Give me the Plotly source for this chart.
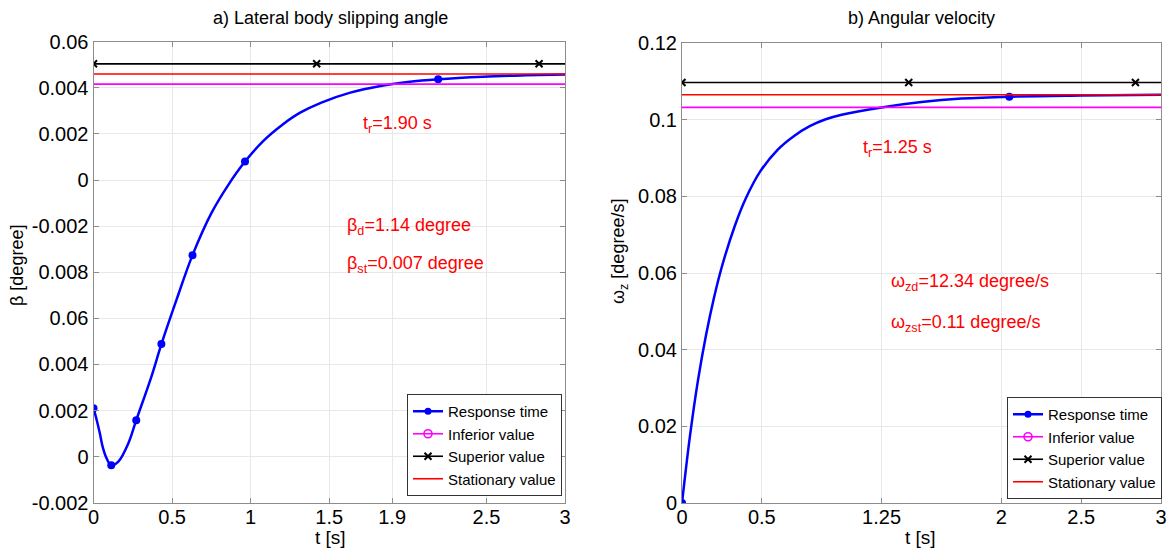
import plotly.graph_objects as go

# ---------------- data: a) lateral body slipping angle ----------------
t_beta = [0, 0.02, 0.04, 0.06, 0.085, 0.113, 0.158, 0.222, 0.272, 0.368, 0.432, 0.528,
          0.63, 0.75, 0.857, 0.964, 1.081, 1.2, 1.315, 1.45, 1.634, 1.826, 2.0, 2.193,
          2.48, 2.75, 3.0]
beta = [0.0021, 0.0016, 0.00102, 0.00038, -0.0001, -0.00038, -0.00022, 0.00058, 0.00158,
        0.00346, 0.00488, 0.0068, 0.00874, 0.01056, 0.01178, 0.0128, 0.0137, 0.01439,
        0.01492, 0.01536, 0.01579, 0.01608, 0.01625, 0.01637, 0.01648, 0.01654, 0.01658]
beta_marker_t = [0, 0.113, 0.272, 0.432, 0.63, 0.964, 2.193]
beta_marker_v = [0.0021, -0.00038, 0.00158, 0.00488, 0.00874, 0.0128, 0.01637]
beta_inferior = 0.01616
beta_superior = 0.01704
beta_stationary = 0.0166
beta_inf_marker_t = [0, 1.315, 2.634]
beta_sup_marker_t = [0, 1.42, 2.835]
beta_xticks = [0, 0.5, 1, 1.5, 1.9, 2.5, 3]
beta_xticklabels = ['0', '0.5', '1', '1.5', '1.9', '2.5', '3']
beta_yticks = [-0.002, 0, 0.002, 0.004, 0.006, 0.008, 0.010, 0.012, 0.014, 0.016, 0.018]
beta_yticklabels = ['-0.002', '0', '0.002', '0.004', '0.06', '0.008',
                    '-0.002', '0', '0.002', '0.004', '0.06']

# ---------------- data: b) angular velocity ----------------
t_omega = [0, 0.05, 0.1, 0.15, 0.2, 0.25, 0.33, 0.4, 0.49, 0.6, 0.7, 0.8, 0.9, 1.0,
           1.25, 1.5, 1.75, 2.05, 2.5, 3.0]
omega = [0, 0.0175, 0.032, 0.0437, 0.0535, 0.0617, 0.0722, 0.0795, 0.0865, 0.0922, 0.0957,
         0.0983, 0.1001, 0.1013, 0.1032, 0.1046, 0.1055, 0.106, 0.1063, 0.1065]
omega_marker_t = [0, 2.05]
omega_marker_v = [0, 0.106]
omega_inferior = 0.1032
omega_superior = 0.1097
omega_stationary = 0.1065
omega_inf_marker_t = [0, 1.32, 2.48]
omega_sup_marker_t = [0, 1.42, 2.84]
omega_xticks = [0, 0.5, 1.25, 2, 2.5, 3]
omega_xticklabels = ['0', '0.5', '1.25', '2', '2.5', '3']
omega_yticks = [0, 0.02, 0.04, 0.06, 0.08, 0.1, 0.12]
omega_yticklabels = ['0', '0.02', '0.04', '0.06', '0.08', '0.1', '0.12']

series_names = ['Response time', 'Inferior value', 'Superior value', 'Stationary value']

BLUE = '#0000ff'
MAG = '#ff00ff'
BLK = '#000000'
RED = '#ff0000'
FONT = 'Liberation Sans, Arial, sans-serif'

fig = go.Figure()


def add_panel(xa, ya, leg, t, v, mt, mv, inf, sup, sta, inf_t, sup_t):
    fig.add_trace(go.Scatter(x=t, y=v, mode='lines', line=dict(color=BLUE, width=2.5, shape='spline'),
                             xaxis=xa, yaxis=ya, showlegend=False, hoverinfo='skip'))
    fig.add_trace(go.Scatter(x=mt, y=mv, mode='markers', marker=dict(color=BLUE, size=8, symbol='circle'),
                             xaxis=xa, yaxis=ya, showlegend=False))
    for val, col in [(sup, BLK), (sta, RED), (inf, MAG)]:
        fig.add_trace(go.Scatter(x=[0, 3], y=[val, val], mode='lines', line=dict(color=col, width=1.6),
                                 xaxis=xa, yaxis=ya, showlegend=False, hoverinfo='skip'))
    fig.add_trace(go.Scatter(x=inf_t, y=[inf] * len(inf_t), mode='markers',
                             marker=dict(color='rgba(0,0,0,0)', size=9, symbol='circle-open',
                                         line=dict(color=MAG, width=1.6)),
                             xaxis=xa, yaxis=ya, showlegend=False))
    fig.add_trace(go.Scatter(x=sup_t, y=[sup] * len(sup_t), mode='markers',
                             marker=dict(color=BLK, size=7, symbol='x-thin', line=dict(color=BLK, width=2)),
                             xaxis=xa, yaxis=ya, showlegend=False))
    # legend entries
    fig.add_trace(go.Scatter(x=[None], y=[None], mode='lines+markers', name=series_names[0],
                             line=dict(color=BLUE, width=2.5), marker=dict(color=BLUE, size=7),
                             xaxis=xa, yaxis=ya, legend=leg))
    fig.add_trace(go.Scatter(x=[None], y=[None], mode='lines+markers', name=series_names[1],
                             line=dict(color=MAG, width=1.6),
                             marker=dict(size=8, symbol='circle-open', color=MAG, line=dict(color=MAG, width=1.6)),
                             xaxis=xa, yaxis=ya, legend=leg))
    fig.add_trace(go.Scatter(x=[None], y=[None], mode='lines+markers', name=series_names[2],
                             line=dict(color=BLK, width=1.6),
                             marker=dict(size=7, symbol='x-thin', color=BLK, line=dict(color=BLK, width=2)),
                             xaxis=xa, yaxis=ya, legend=leg))
    fig.add_trace(go.Scatter(x=[None], y=[None], mode='lines', name=series_names[3],
                             line=dict(color=RED, width=1.6),
                             xaxis=xa, yaxis=ya, legend=leg))


add_panel('x', 'y', 'legend', t_beta, beta, beta_marker_t, beta_marker_v,
          beta_inferior, beta_superior, beta_stationary, beta_inf_marker_t, beta_sup_marker_t)
add_panel('x2', 'y2', 'legend2', t_omega, omega, omega_marker_t, omega_marker_v,
          omega_inferior, omega_superior, omega_stationary, omega_inf_marker_t, omega_sup_marker_t)

W, H = 1167, 548
axis_common = dict(showline=True, linecolor='#8c8c8c', linewidth=1, mirror='ticks',
                   ticks='inside', ticklen=5, tickcolor='#8c8c8c', showgrid=True,
                   gridcolor='#e8e8e8', gridwidth=1, zeroline=False, automargin=False,
                   tickfont=dict(family=FONT, size=20, color='#000'))

fig.update_layout(
    width=W, height=H, paper_bgcolor='white', plot_bgcolor='white',
    margin=dict(l=0, r=0, t=0, b=0, autoexpand=False),
    font=dict(family=FONT, color='#000'),
    xaxis=dict(domain=[93.5 / W, 565 / W], range=[0, 3], tickmode='array', tickvals=beta_xticks,
               ticktext=beta_xticklabels, anchor='y', ticklabelstandoff=-4, **axis_common),
    yaxis=dict(domain=[1 - 502.7 / H, 1 - 41.7 / H], range=[-0.002, 0.018], tickmode='array',
               tickvals=beta_yticks, ticktext=beta_yticklabels, anchor='x', **axis_common),
    xaxis2=dict(domain=[682 / W, 1161 / W], range=[0, 3], tickmode='array', tickvals=omega_xticks,
                ticktext=omega_xticklabels, anchor='y2', ticklabelstandoff=-4, **axis_common),
    yaxis2=dict(domain=[1 - 503 / H, 1 - 43 / H], range=[0, 0.12], tickmode='array',
                tickvals=omega_yticks, ticktext=omega_yticklabels, anchor='x2', **axis_common),
    legend=dict(x=562 / W, y=1 - 496 / H, xanchor='right', yanchor='bottom',
                bgcolor='white', bordercolor='#333', borderwidth=1,
                font=dict(family=FONT, size=15, color='#000'), tracegroupgap=0),
    legend2=dict(x=1162 / W, y=1 - 499 / H, xanchor='right', yanchor='bottom',
                 bgcolor='white', bordercolor='#333', borderwidth=1,
                 font=dict(family=FONT, size=15, color='#000'), tracegroupgap=0),
)


def ann(text, x, y, size, color='#000', xanchor='center', angle=0, yanchor='middle'):
    fig.add_annotation(text=text, x=x / W, y=1 - y / H, xref='paper', yref='paper',
                       xanchor=xanchor, yanchor=yanchor, showarrow=False, textangle=angle,
                       font=dict(family=FONT, size=size, color=color))


ann('a) Lateral body slipping angle', 330, 18, 18)
ann('b) Angular velocity', 921, 18, 18)
ann('t [s]', 330, 550, 19, yanchor='bottom')
ann('t [s]', 920, 550, 19, yanchor='bottom')
ann('β [degree]', 17, 266, 18, angle=-90)
ann('ω<sub>z</sub> [degree/s]', 619, 251, 18, angle=-90)

ann('t<sub>r</sub>=1.90 s', 361, 124, 18, RED, 'left')
ann('β<sub>d</sub>=1.14 degree', 345, 227, 18, RED, 'left')
ann('β<sub>st</sub>=0.007 degree', 345, 264, 18, RED, 'left')
ann('t<sub>r</sub>=1.25 s', 861, 149, 18, RED, 'left')
ann('ω<sub>zd</sub>=12.34 degree/s', 889, 282, 18, RED, 'left')
ann('ω<sub>zst</sub>=0.11 degree/s', 889, 323, 18, RED, 'left')

# remove the default page margin so the figure sits at the top-left of the window
fig.write_html('out.html', config={'displayModeBar': False},
               post_script="document.body.style.margin='0px';")
